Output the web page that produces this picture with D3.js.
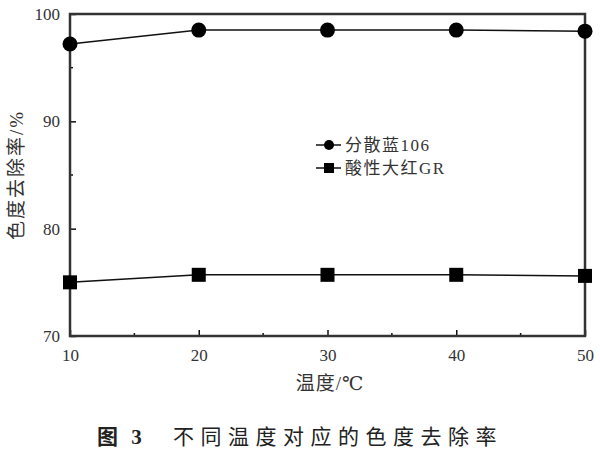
<!DOCTYPE html>
<html><head><meta charset="utf-8">
<script src="https://cdn.jsdelivr.net/npm/d3@7"></script>
<style>body{margin:0;background:#fff}svg{display:block}</style>
</head><body>
<script>
const temps = [10, 20, 30, 40, 50];
const seriesNames = ["分散蓝106", "酸性大红GR"];
const blue106 = [97.2, 98.5, 98.5, 98.5, 98.4];
const redGR = [75.0, 75.7, 75.7, 75.7, 75.6];
const xTicks = [10, 20, 30, 40, 50];
const yTicks = [70, 80, 90, 100];
const xLabel = "温度/℃";
const yLabel = "色度去除率/%";
const captionNum = "图 3";
const captionText = "不同温度对应的色度去除率";

const W = 600, H = 450;
const m = {l: 70, r: 15, t: 14, b: 114};
const svg = d3.select("body").append("svg").attr("width", W).attr("height", H);
const x = d3.scaleLinear().domain([10, 50]).range([m.l, W - m.r]);
const y = d3.scaleLinear().domain([70, 100]).range([H - m.b, m.t]);
const serif = "'Liberation Serif','DejaVu Serif','Noto Sans CJK SC',serif";
const col = "#111";

// minor ticks
const xMinor = [15, 25, 35, 45];
const yMinor = [75, 85, 95];
svg.append("g").selectAll("line").data(xMinor).join("line")
  .attr("x1", d => x(d)).attr("x2", d => x(d)).attr("y1", y(70)).attr("y2", y(70) - 3)
  .attr("stroke", col).attr("stroke-width", 1.5);
svg.append("g").selectAll("line").data(yMinor).join("line")
  .attr("x1", x(10)).attr("x2", x(10) + 3).attr("y1", d => y(d)).attr("y2", d => y(d))
  .attr("stroke", col).attr("stroke-width", 1.5);

// axes
const xa = svg.append("g").attr("transform", `translate(0,${y(70)})`)
  .call(d3.axisBottom(x).tickValues(xTicks).tickSizeInner(-6).tickSizeOuter(0).tickPadding(10));
const ya = svg.append("g").attr("transform", `translate(${x(10)},0)`)
  .call(d3.axisLeft(y).tickValues(yTicks).tickSizeInner(-6).tickSizeOuter(0).tickPadding(10));
[xa, ya].forEach(a => {
  a.select(".domain").remove();
  a.selectAll("line").attr("stroke", col).attr("stroke-width", 1.5);
  a.selectAll("text").attr("font-family", serif).attr("font-size", 17).attr("fill", "#333");
});
xa.selectAll("text").attr("dy", "0.9em");

// frame
svg.append("rect").attr("x", x(10)).attr("y", y(100))
  .attr("width", x(50) - x(10)).attr("height", y(70) - y(100))
  .attr("fill", "none").attr("stroke", "#333").attr("stroke-width", 2.5);

const line = d3.line().x((d, i) => x(temps[i])).y(d => y(d));
[blue106, redGR].forEach((s, k) => {
  svg.append("path").datum(s).attr("d", line).attr("fill", "none")
    .attr("stroke", col).attr("stroke-width", 1.5);
  if (k === 0) {
    svg.append("g").selectAll("circle").data(s).join("circle")
      .attr("cx", (d, i) => x(temps[i])).attr("cy", d => y(d)).attr("r", 7.5).attr("fill", "#000");
  } else {
    svg.append("g").selectAll("rect").data(s).join("rect")
      .attr("x", (d, i) => x(temps[i]) - 7).attr("y", d => y(d) - 7)
      .attr("width", 14).attr("height", 14).attr("fill", "#000");
  }
});

// legend
const lg = svg.append("g");
seriesNames.forEach((n, k) => {
  const ly = 145 + k * 23;
  lg.append("line").attr("x1", 316).attr("x2", 341).attr("y1", ly).attr("y2", ly)
    .attr("stroke", col).attr("stroke-width", 1.5);
  if (k === 0) lg.append("circle").attr("cx", 329).attr("cy", ly).attr("r", 5).attr("fill", "#000");
  else lg.append("rect").attr("x", 324).attr("y", ly - 5).attr("width", 10).attr("height", 10).attr("fill", "#000");
  lg.append("text").attr("x", 345).attr("y", ly).attr("dy", "0.35em")
    .attr("font-family", serif).attr("font-size", 17).attr("letter-spacing", 1.5)
    .attr("fill", "#333").text(n);
});

// axis titles
svg.append("text").attr("x", 330).attr("y", 390).attr("text-anchor", "middle")
  .attr("font-family", serif).attr("font-size", 19).attr("letter-spacing", 1)
  .attr("fill", "#333").text(xLabel);
svg.append("text").attr("transform", `translate(23,${y(85)}) rotate(-90)`)
  .attr("text-anchor", "middle").attr("font-family", serif).attr("font-size", 19)
  .attr("letter-spacing", 2).attr("fill", "#333").text(yLabel);

// caption
svg.append("text").attr("x", 97).attr("y", 444)
  .attr("font-family", serif).attr("font-size", 21).attr("font-weight", "bold")
  .attr("fill", "#222").attr("letter-spacing", 4).text(captionNum);
svg.append("text").attr("x", 173).attr("y", 444)
  .attr("font-family", serif).attr("font-size", 21).attr("letter-spacing", 6.5)
  .attr("fill", "#222").text(captionText);
</script>
</body></html>
